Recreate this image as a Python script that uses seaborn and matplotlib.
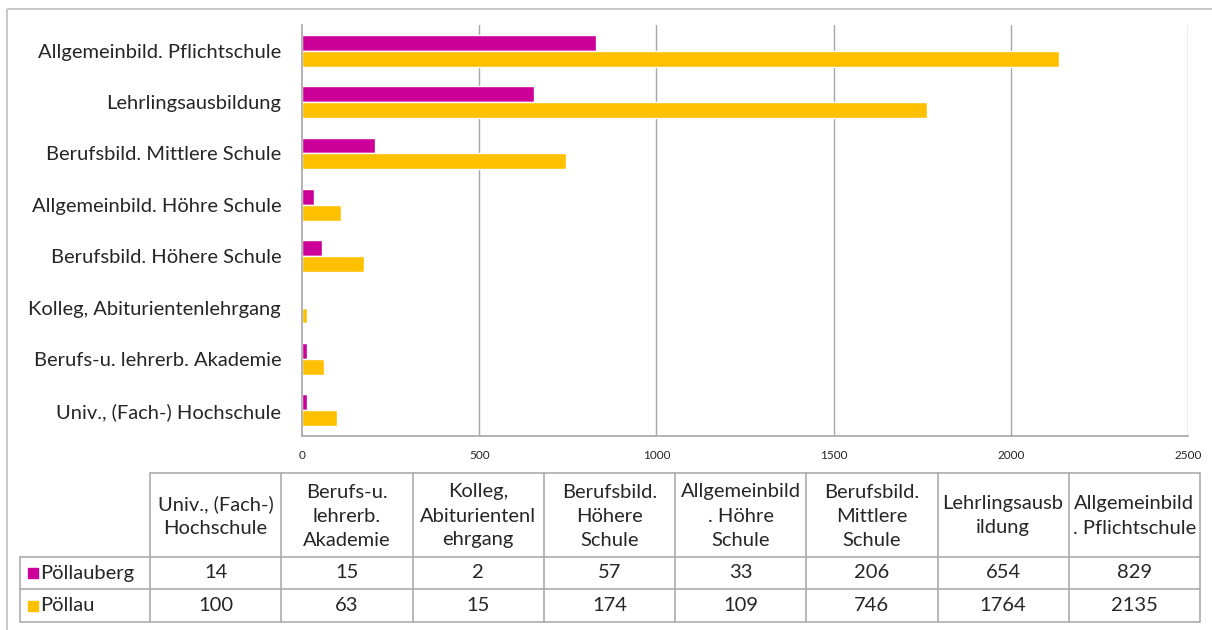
import matplotlib
matplotlib.use("Agg")
import matplotlib.pyplot as plt
import seaborn as sns
import pandas as pd
from matplotlib.patches import Rectangle

# ========================
# DATA
# ========================
categories = [
    "Univ., (Fach-) Hochschule",
    "Berufs-u. lehrerb. Akademie",
    "Kolleg, Abiturientenlehrgang",
    "Berufsbild. Höhere Schule",
    "Allgemeinbild. Höhre Schule",
    "Berufsbild. Mittlere Schule",
    "Lehrlingsausbildung",
    "Allgemeinbild. Pflichtschule",
]
table_headers = [
    "Univ., (Fach-)\nHochschule",
    "Berufs-u.\nlehrerb.\nAkademie",
    "Kolleg,\nAbiturientenl\nehrgang",
    "Berufsbild.\nHöhere\nSchule",
    "Allgemeinbild\n. Höhre\nSchule",
    "Berufsbild.\nMittlere\nSchule",
    "Lehrlingsausb\nildung",
    "Allgemeinbild\n. Pflichtschule",
]
series_names = ["Pöllauberg", "Pöllau"]
poellauberg = [14, 15, 2, 57, 33, 206, 654, 829]
poellau = [100, 63, 15, 174, 109, 746, 1764, 2135]
x_ticks = [0, 500, 1000, 1500, 2000, 2500]

PALETTE = ["#CC0099", "#FFC000"]
GRID = "#A6A6A6"
FONT = ["Lato", "DejaVu Sans"]
NARROW = ["Liberation Sans Narrow", "Lato", "DejaVu Sans"]
FS = 14.5

W, H = 1212, 630

records = []
for name, vals in zip(series_names, [poellauberg, poellau]):
    for cat, v in zip(categories, vals):
        records.append({"cat": cat, "value": v, "series": name})
df = pd.DataFrame(records)

# ========================
# PLOT
# ========================
sns.set_style("white")
plt.rcParams["font.family"] = FONT

fig = plt.figure(figsize=(W / 100, H / 100), dpi=100)

def px_axes(x0, y0, x1, y1):
    return fig.add_axes([x0 / W, 1 - y1 / H, (x1 - x0) / W, (y1 - y0) / H])

ax = px_axes(302, 25, 1188, 436)
sns.barplot(
    data=df, y="cat", x="value", hue="series", order=categories[::-1],
    hue_order=series_names, palette=PALETTE, orient="h", width=0.62,
    saturation=1, ax=ax, legend=False,
)
ax.set_xlim(0, 2500)
ax.set_ylim(7.5, -0.5)
ax.set_xticks(x_ticks)
ax.set_xticklabels([str(t) for t in x_ticks], fontsize=8.5, family=NARROW)
ax.tick_params(axis="x", length=0, pad=10)
ax.tick_params(axis="y", length=0, pad=15, labelsize=FS)
ax.set_xlabel("")
ax.set_ylabel("")
for t in x_ticks[1:]:
    ax.axvline(t, color=GRID, lw=1, zorder=0)
for side in ["top", "right"]:
    ax.spines[side].set_visible(False)
for side in ["left", "bottom"]:
    ax.spines[side].set_color(GRID)
    ax.spines[side].set_linewidth(1.2)

# ========================
# DATA TABLE + FRAME
# ========================
ov = fig.add_axes([0, 0, 1, 1], zorder=-1)
ov.set_xlim(0, W)
ov.set_ylim(H, 0)
ov.axis("off")
ov.add_patch(Rectangle((7, 9), W, H, fill=False, ec="#C8C8C8", lw=1.4,
                       clip_on=False))

col_x = [150 + i * 131.25 for i in range(9)]
top, r1, r2, bot = 473, 557, 589, 622
lw = 1.1
# horizontal lines
ov.plot([col_x[0], col_x[-1]], [top, top], color=GRID, lw=lw)
for y in [r1, r2, bot]:
    ov.plot([20, col_x[-1]], [y, y], color=GRID, lw=lw)
# vertical lines
ov.plot([20, 20], [r1, bot], color=GRID, lw=lw)
for x in col_x:
    ov.plot([x, x], [top, bot], color=GRID, lw=lw)

for i, head in enumerate(table_headers):
    cx = (col_x[i] + col_x[i + 1]) / 2
    ov.text(cx, (top + r1) / 2 + 1, head, ha="center", va="center",
            fontsize=FS, linespacing=1.5)
    ov.text(cx, (r1 + r2) / 2, str(poellauberg[i]), ha="center",
            va="center", fontsize=FS)
    ov.text(cx, (r2 + bot) / 2, str(poellau[i]), ha="center",
            va="center", fontsize=FS)

for name, color, (y0, y1) in zip(series_names, PALETTE, [(r1, r2), (r2, bot)]):
    cy = (y0 + y1) / 2
    ov.add_patch(Rectangle((28, cy - 5), 10, 10, color=color))
    ov.text(40, cy, name, ha="left", va="center", fontsize=FS)

plt.savefig("out.png", dpi=100)
